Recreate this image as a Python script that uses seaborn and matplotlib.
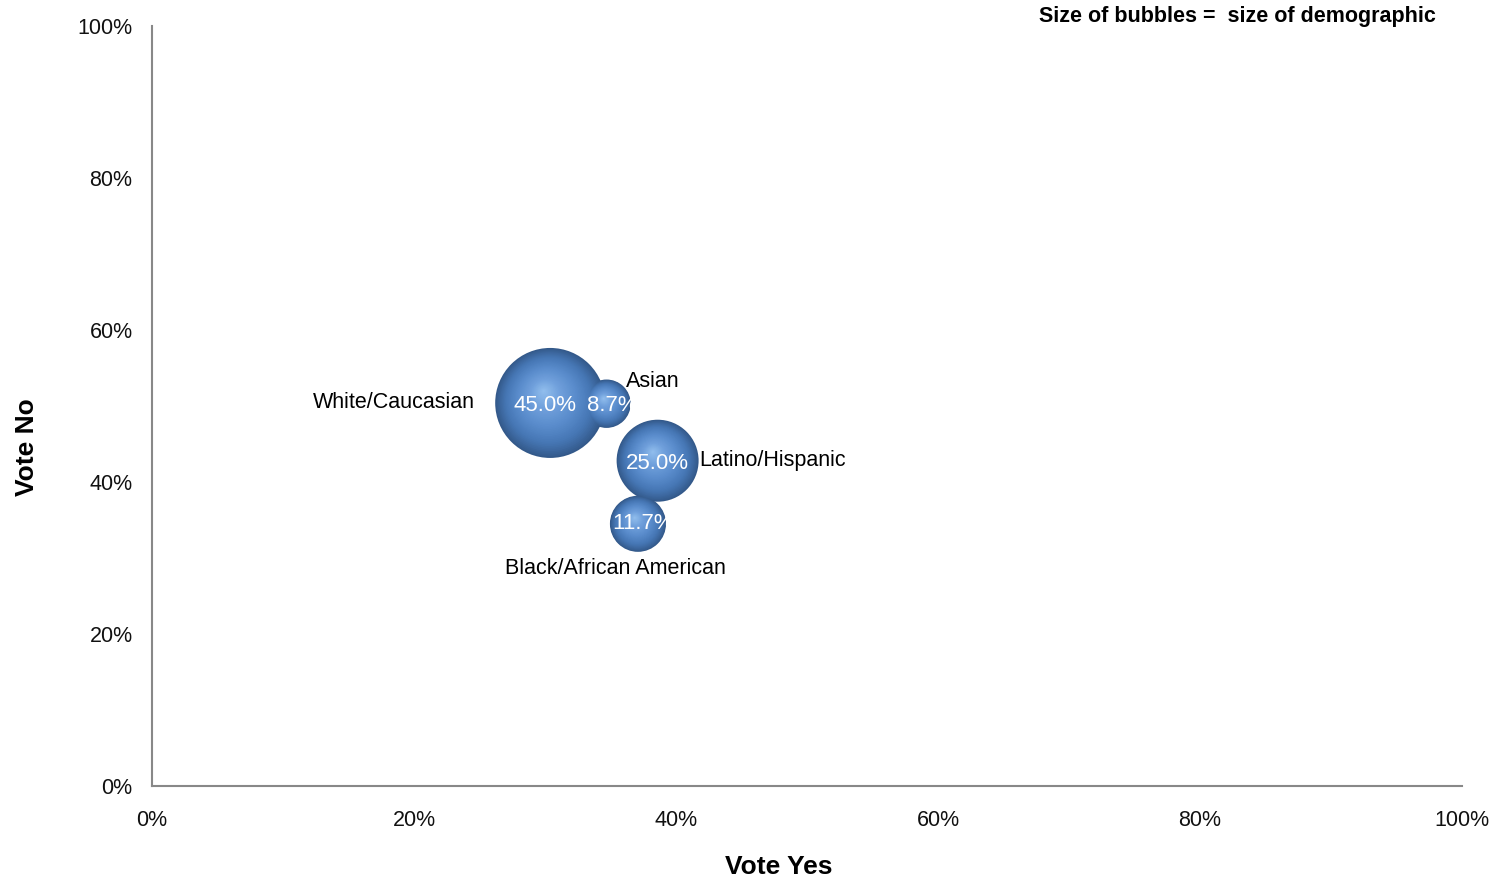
import matplotlib
matplotlib.use("Agg")
import matplotlib.pyplot as plt
import matplotlib.colors as mcolors
import numpy as np
import pandas as pd
import seaborn as sns

# valores
grupos = ["White/Caucasian", "Asian", "Latino/Hispanic", "Black/African American"]
vote_yes = [0.304, 0.347, 0.386, 0.371]
vote_no = [0.504, 0.503, 0.428, 0.345]
share = [45.0, 8.7, 25.0, 11.7]
share_txt = ["45.0%", "8.7%", "25.0%", "11.7%"]

x_ticks = [0, 0.2, 0.4, 0.6, 0.8, 1.0]
y_ticks = [0, 0.2, 0.4, 0.6, 0.8, 1.0]
tick_txt = ["0%", "20%", "40%", "60%", "80%", "100%"]

df = pd.DataFrame({"grupo": grupos, "yes": vote_yes, "no": vote_no, "share": share})

S_MAX = 6273  # area (pt^2) da maior bolha
COR_ESCURA = "#33598a"

sns.set_style("white")
plt.rcParams["font.family"] = ["Liberation Sans", "DejaVu Sans"]
plt.rcParams["text.color"] = "black"
plt.rcParams["axes.labelcolor"] = "black"

fig = plt.figure(figsize=(14.97, 8.8), dpi=100)
ax = fig.add_axes([0.1015, 0.1068, 0.8751, 0.8637])

# bolha base
sns.scatterplot(data=df, x="yes", y="no", size="share", sizes=(0, S_MAX),
                size_norm=(0, 45), color=COR_ESCURA, edgecolor="none",
                legend=False, ax=ax, zorder=2)

# camadas para dar o efeito de esfera
px_x = 1310.0
px_y = 760.0
n = 40
cmap = mcolors.LinearSegmentedColormap.from_list(
    "esfera", [COR_ESCURA, "#4677b5", "#5a8ccc", "#70a0dc", "#93c0ee"])
s_base = np.array(share) / 45.0 * S_MAX
raio_px = np.sqrt(s_base) / 2 * 100 / 72
for k in range(1, n):
    f = 1 - k / n
    dx = -0.12 * raio_px * (1 - f) / px_x
    dy = 0.22 * raio_px * (1 - f) / px_y
    ax.scatter(np.array(vote_yes) + dx, np.array(vote_no) + dy, s=s_base * f ** 2,
               color=cmap((k / n) ** 0.9), edgecolor="none", zorder=2 + k * 0.01)

# percentagens dentro das bolhas
ajuste = [(-4, -1.5), (4, -1), (0, -2), (4, 0)]
for xv, yv, t, (ox, oy) in zip(vote_yes, vote_no, share_txt, ajuste):
    ax.annotate(t, (xv, yv), xytext=(ox, oy), textcoords="offset points",
                ha="center", va="center", color="white", fontsize=16, zorder=5)

# nomes dos grupos
nomes = [(-54, 0.5, "right"), (14, 16, "left"), (30, 0, "left"), (-16, -32, "center")]
for xv, yv, g, (ox, oy, ha) in zip(vote_yes, vote_no, grupos, nomes):
    ax.annotate(g, (xv, yv), xytext=(ox, oy), textcoords="offset points",
                ha=ha, va="center", color="black", fontsize=15.5, zorder=5)

ax.set_xlim(0, 1)
ax.set_ylim(0, 1)
ax.set_xticks(x_ticks)
ax.set_xticklabels(tick_txt)
ax.set_yticks(y_ticks)
ax.set_yticklabels(tick_txt)
ax.tick_params(axis="both", direction="out", length=5, width=1.5, color="#888888",
               labelsize=15.5, labelcolor="#111111")
ax.tick_params(axis="x", pad=12)
ax.tick_params(axis="y", pad=9)

sns.despine(ax=ax)
for lado in ["left", "bottom"]:
    ax.spines[lado].set_color("#888888")
    ax.spines[lado].set_linewidth(1.5)

ax.set_xlabel("Vote Yes", fontsize=19, fontweight="bold", va="center")
ax.set_ylabel("Vote No", fontsize=19, fontweight="bold", va="center")
ax.xaxis.set_label_coords(0.4786, -0.1066)
ax.yaxis.set_label_coords(-0.095, 0.446)

fig.text(0.9592, 0.9818, "Size of bubbles =  size of demographic", ha="right", va="center",
         fontsize=15.5, fontweight="bold")

plt.savefig("out.png", dpi=100)
plt.close()
